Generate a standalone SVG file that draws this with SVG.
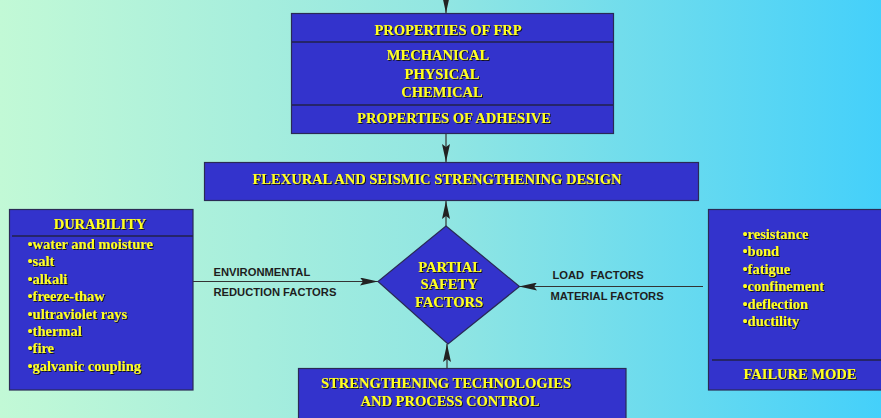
<svg xmlns="http://www.w3.org/2000/svg" width="881" height="418" viewBox="0 0 881 418">
<defs>
<linearGradient id="bg" x1="0" y1="0" x2="1" y2="0">
<stop offset="0" stop-color="#c2f9d6"/>
<stop offset="0.5" stop-color="#92e6e2"/>
<stop offset="1" stop-color="#44d0fa"/>
</linearGradient>
<marker id="ah" viewBox="0 0 18 8" refX="18" refY="4" markerWidth="18" markerHeight="8" markerUnits="userSpaceOnUse" orient="auto">
<path d="M0,0 L18,4 L0,8 L3,4 Z" fill="#222"/>
</marker>
<filter id="sh" x="-5%" y="-20%" width="110%" height="140%">
<feDropShadow dx="1" dy="1" stdDeviation="0" flood-color="#111" flood-opacity="0.9"/>
</filter>
</defs>
<style>
.box{fill:#3333cc;stroke:#2a2a55;stroke-width:1.2}
.div{stroke:#22224a;stroke-width:1.5}
.t{font-family:"Liberation Serif","Times New Roman",serif;font-weight:bold;font-size:14.5px;fill:#ffff22;filter:url(#sh)}
.c{text-anchor:middle}
.l{font-family:"Liberation Sans",Arial,sans-serif;font-weight:bold;font-size:11.2px;fill:#1e1e1e}
.cn{stroke:#333;stroke-width:1.2;fill:none;marker-end:url(#ah)}
</style>
<rect x="0" y="0" width="881" height="418" fill="url(#bg)"/>

<g id="connectors">
<line class="cn" x1="446" y1="0" x2="446" y2="13"/>
<line class="cn" x1="446" y1="134" x2="446" y2="162"/>
<line class="cn" x1="446" y1="226" x2="446" y2="201"/>
<line class="cn" x1="447" y1="368" x2="447" y2="344"/>
<line class="cn" x1="193" y1="281.5" x2="378" y2="281.5"/>
<line class="cn" x1="703" y1="286.5" x2="519" y2="286.5"/>
</g>

<g id="frp">
<rect class="box" x="291.5" y="13.5" width="322" height="120"/>
<line class="div" x1="292" y1="42" x2="613" y2="42"/>
<line class="div" x1="292" y1="105" x2="613" y2="105"/>
<text class="t c" x="448" y="35">PROPERTIES OF FRP</text>
<text class="t c" x="438" y="60">MECHANICAL</text>
<text class="t c" x="442" y="79">PHYSICAL</text>
<text class="t c" x="442" y="97">CHEMICAL</text>
<text class="t c" x="454" y="123">PROPERTIES OF ADHESIVE</text>
</g>

<g id="design">
<rect class="box" x="204.5" y="162.5" width="494" height="38"/>
<text class="t c" x="437" y="184">FLEXURAL AND SEISMIC STRENGTHENING DESIGN</text>
</g>

<g id="durability">
<rect class="box" x="9.5" y="209.5" width="183.5" height="180.5"/>
<line class="div" x1="12" y1="236" x2="193" y2="236"/>
<text class="t c" x="100" y="228.5">DURABILITY</text>
<text class="t" x="27.5" y="248.5">•water and moisture</text>
<text class="t" x="27.5" y="266">•salt</text>
<text class="t" x="27.5" y="283.5">•alkali</text>
<text class="t" x="27.5" y="300.5">•freeze-thaw</text>
<text class="t" x="27.5" y="318.5">•ultraviolet rays</text>
<text class="t" x="27.5" y="335.5">•thermal</text>
<text class="t" x="27.5" y="353">•fire</text>
<text class="t" x="27.5" y="370.5">•galvanic coupling</text>
</g>

<g id="labels-left">
<text class="l" x="213.5" y="275.5">ENVIRONMENTAL</text>
<text class="l" x="213.5" y="296">REDUCTION FACTORS</text>
</g>

<g id="labels-right">
<text class="l" x="552.5" y="278.5" xml:space="preserve">LOAD  FACTORS</text>
<text class="l" x="550.5" y="300">MATERIAL FACTORS</text>
</g>

<g id="safety">
<polygon class="box" points="446,226 519.5,286.5 448,344 378,281.5"/>
<text class="t c" x="450" y="272">PARTIAL</text>
<text class="t c" x="449" y="289">SAFETY</text>
<text class="t c" x="449" y="307">FACTORS</text>
</g>

<g id="failure">
<rect class="box" x="708.5" y="209.5" width="180" height="180.5"/>
<line class="div" x1="712" y1="360" x2="881" y2="360"/>
<text class="t" x="742.5" y="238.5">•resistance</text>
<text class="t" x="742.5" y="256">•bond</text>
<text class="t" x="742.5" y="273.5">•fatigue</text>
<text class="t" x="742.5" y="290.5">•confinement</text>
<text class="t" x="742.5" y="308.5">•deflection</text>
<text class="t" x="742.5" y="325.5">•ductility</text>
<text class="t c" x="800" y="378.5">FAILURE MODE</text>
</g>

<g id="technologies">
<rect class="box" x="298.5" y="368.5" width="327.5" height="60"/>
<text class="t c" x="446" y="387.5">STRENGTHENING TECHNOLOGIES</text>
<text class="t c" x="450" y="406">AND PROCESS CONTROL</text>
</g>
</svg>
